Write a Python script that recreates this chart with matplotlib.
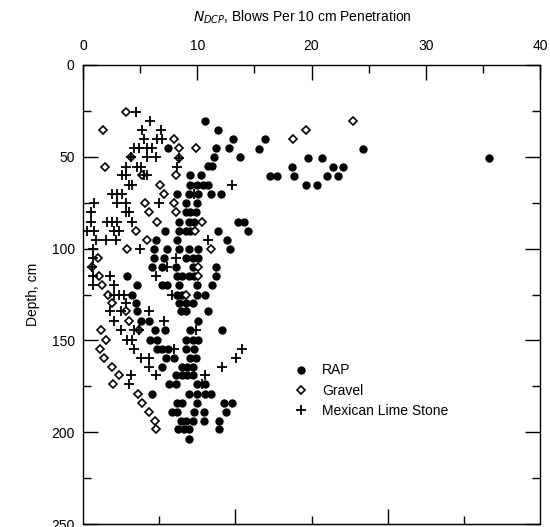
import numpy as np
import matplotlib.pyplot as plt
from matplotlib.ticker import MultipleLocator

plt.rcParams['font.family'] = ['Liberation Sans', 'DejaVu Sans']

# RAP (x = blows per 10 cm, y = depth in cm)
rap_x = [10.7, 11.8, 13.1, 15.9, 7.46, 11.6, 12.8, 15.4, 24.5, 13.7, 11.45, 19.7, 20.95, 35.5,
         10.9, 11.3, 18.3, 21.9, 22.75, 9.4, 10.3, 18.5, 21.4, 22.3, 16.4, 17.0,
         9.4, 10.0, 10.5, 10.9, 19.5, 20.5,
         8.24, 9.27, 10.1, 11.2, 12.1, 9.0, 10.0, 9.0, 9.4, 9.85,
         8.4, 9.27, 9.7, 13.6, 14.1,
         7.17, 8.4, 9.0, 9.4, 11.8, 14.4,
         6.4, 8.24, 12.6,
         6.2, 7.37, 8.4, 9.27, 10.1, 12.9,
         6.2, 7.05, 9.0, 9.6, 10.1,
         6.06, 6.93, 8.1, 9.6, 11.6,
         3.87, 8.24, 8.7, 9.27, 9.7, 11.6,
         4.75, 6.93, 7.37, 8.4, 10.0, 11.3,
         4.3, 8.24, 8.7, 10.0, 10.7,
         4.6, 8.4, 9.0, 9.6,
         4.75, 8.55, 9.0, 10.9,
         5.04, 5.77, 10.1,
         6.3, 7.2, 9.4, 12.2,
         5.9, 6.5, 9.0, 9.6, 10.1,
         6.5, 6.9, 7.4, 9.0, 9.7,
         7.3, 7.95, 9.4, 9.85,
         6.9, 8.7, 9.1, 9.6,
         8.1, 8.7, 9.1, 9.6,
         7.5, 8.1, 10.0, 10.7,
         6.0, 9.27, 10.0, 10.7, 11.2,
         8.24, 8.7, 10.0, 12.3, 13.05,
         7.8, 8.24, 9.7, 10.6, 12.5,
         8.55, 9.0, 9.6, 10.6, 11.9,
         8.35, 8.8, 9.27, 11.9,
         9.27]
rap_y = [30.6, 35.5, 40.4, 40.4, 45, 45, 45, 45.5, 45.5, 50, 50, 50.5, 50.5, 50.5,
         55, 55, 55.5, 55.5, 55.5, 60, 60, 60.5, 60.5, 60.5, 60.5, 60.5,
         65.4, 65.4, 65.4, 65.4, 65.4, 65.4,
         70.3, 70.3, 70.3, 70.3, 70.3, 75.2, 75.2, 80, 80, 80,
         85.3, 85.3, 85.3, 85.3, 85.3,
         90.2, 90.2, 90.2, 90.2, 90.2, 90.2,
         95.3, 95.3, 95.3,
         100.2, 100.2, 100.2, 100.2, 100.2, 100.2,
         105.2, 105.2, 105.2, 105.2, 105.2,
         109.8, 109.8, 109.8, 109.8, 109.8,
         114.8, 114.8, 114.8, 114.8, 114.8, 114.8,
         119.7, 119.7, 119.7, 119.7, 119.7, 119.7,
         125.2, 125.2, 125.2, 125.2, 125.2,
         129.5, 129.5, 129.5, 129.5,
         134.1, 134.1, 134.1, 134.1,
         139.6, 139.6, 139.6,
         144.2, 144.2, 144.2, 144.2,
         150, 150, 150, 150, 150,
         154.6, 154.6, 154.6, 154.6, 154.6,
         159.6, 159.6, 159.6, 159.6,
         164.5, 164.5, 164.5, 164.5,
         169, 169, 169, 169,
         173.9, 173.9, 173.9, 173.9,
         179.4, 179.4, 179.4, 179.4, 179.4,
         184.3, 184.3, 184.3, 184.3, 184.3,
         189, 189, 189, 189, 189,
         194, 194, 194, 194, 194,
         198.5, 198.5, 198.5, 198.5,
         203.9]

# Gravel
gravel_x = [3.73, 1.75, 7.95, 18.4, 19.55, 23.6, 8.4, 9.9, 4.17, 8.4, 1.92, 5.2, 8.1, 6.7, 7.1,
            5.4, 7.95, 5.8, 8.1, 6.5, 10.4, 4.6, 9.8, 5.6, 3.87, 11.2, 1.3, 0.76, 10.1, 1.4, 10.1,
            1.7, 2.2, 9.0, 2.56, 3.73, 4.0, 1.55, 4.9, 1.98, 1.46, 1.84, 2.5, 3.15, 2.6, 4.8, 5.2,
            5.77, 6.3, 6.4]
gravel_y = [25.5, 35.5, 40.4, 40.4, 35.5, 30.6, 45, 45, 50, 50.5, 55.3, 60, 60, 65.4, 70.3,
            75.2, 75.2, 80, 80, 85.3, 85.3, 90.2, 90.2, 95.3, 100.2, 100.2, 105.2, 109.8, 109.8, 114.8, 114.8,
            119.7, 125.2, 125.2, 129.5, 134.1, 139.6, 144.2, 144.2, 150, 154.6, 159.6, 164.5, 169, 173.9, 179.4, 184.3,
            189, 194, 198.5]

# Mexican Lime Stone
lime_x = [4.66, 5.9, 5.2, 6.8, 5.33, 6.5, 6.9, 4.46, 4.9, 5.6, 6.05, 4.17, 5.6, 6.35, 8.4,
          3.73, 4.75, 5.04, 8.24, 3.4, 3.73, 5.33, 5.62, 4.0, 4.3, 13.05, 2.56, 3.0, 3.43, 9.7,
          0.96, 3.0, 3.73, 6.64, 0.67, 3.73, 4.0,
          0.67, 2.1, 2.56, 3.0, 4.3, 0.38, 0.96, 2.7, 3.15, 1.1, 2.0, 2.86, 10.9, 0.87, 4.95,
          0.84, 8.1, 0.76, 7.37, 0.84, 2.4, 6.35, 0.84, 2.7, 2.7, 3.15, 3.6, 7.8, 3.73,
          2.4, 3.3, 5.77, 2.7, 7.08, 3.3, 4.5, 4.9, 9.85, 3.87, 4.3, 4.46, 7.95, 13.9,
          5.04, 5.77, 13.35, 5.77, 12.2, 4.17, 6.35, 10.7, 4.0, 10.4]
lime_y = [25.5, 30.6, 35.5, 35.5, 40.4, 40.4, 40.4, 45, 45, 45, 45, 50, 50, 50, 50.5,
          55.3, 55.3, 55.3, 55.3, 60, 60, 60, 60, 65.4, 65.4, 65.4, 70.3, 70.3, 70.3, 70.3,
          75.2, 75.2, 75.2, 75.2, 80, 80, 80,
          85.3, 85.3, 85.3, 85.3, 85.3, 90.2, 90.2, 90.2, 90.2, 95.3, 95.3, 95.3, 95.3, 100.2, 100.2,
          105.2, 105.2, 109.8, 109.8, 114.8, 114.8, 114.8, 119.7, 119.7, 125.2, 125.2, 125.2, 125.2, 129.5,
          134.1, 134.1, 134.1, 139.6, 139.6, 144.2, 144.2, 144.2, 144.2, 150, 150, 154.6, 154.6, 154.6,
          159.6, 159.6, 159.6, 164.5, 164.5, 169, 169, 169, 173.9, 173.9]

fig = plt.figure(figsize=(5.5, 5.27), dpi=100)
ax = fig.add_axes([83/550, 1 - 524/527, 457/550, 459/527])

ax.plot(rap_x, rap_y, 'o', color='black', markersize=5, label='RAP', clip_on=False)
ax.plot(gravel_x, gravel_y, 'D', mfc='white', mec='black', mew=1.2, markersize=4, label='Gravel')
ax.plot(lime_x, lime_y, '+', color='black', mew=1.3, markersize=7.5, label='Mexican Lime Stone')

ax.set_xlim(0, 40)
ax.set_ylim(250, 0)
ax.xaxis.set_major_locator(MultipleLocator(10))
ax.xaxis.set_minor_locator(MultipleLocator(5))
ax.yaxis.set_major_locator(MultipleLocator(50))
ax.yaxis.set_minor_locator(MultipleLocator(25))
ax.xaxis.tick_top()
ax.tick_params(which='both', direction='in', top=True, bottom=False, left=True, right=True,
               labelsize=10, width=1)
ax.tick_params(which='major', length=11)
ax.tick_params(which='minor', length=5.5)
ax.tick_params(axis='x', pad=9)
ax.tick_params(axis='y', pad=6)
for s in ax.spines.values():
    s.set_linewidth(1)

# bottom edge ticks (different spacing in the source figure)
sec = ax.secondary_xaxis('bottom')
sec.set_xticks([40/3, 80/3], labels=[])
sec.set_xticks([20/3, 20, 100/3], minor=True)
sec.tick_params(which='both', direction='in', width=1)
sec.tick_params(which='major', length=11)
sec.tick_params(which='minor', length=5.5)

ax.set_ylabel('Depth, cm', fontsize=10, labelpad=8)
fig.text(0.55, 1 - 17/527, r'$N_{DCP}$, Blows Per 10 cm Penetration', ha='center', va='center', fontsize=10)

ax.legend(loc='upper left', bbox_to_anchor=(0.42, 0.377), frameon=False, fontsize=10,
          handletextpad=0.5, labelspacing=0.45, numpoints=1)

fig.savefig('out.png', dpi=100)
